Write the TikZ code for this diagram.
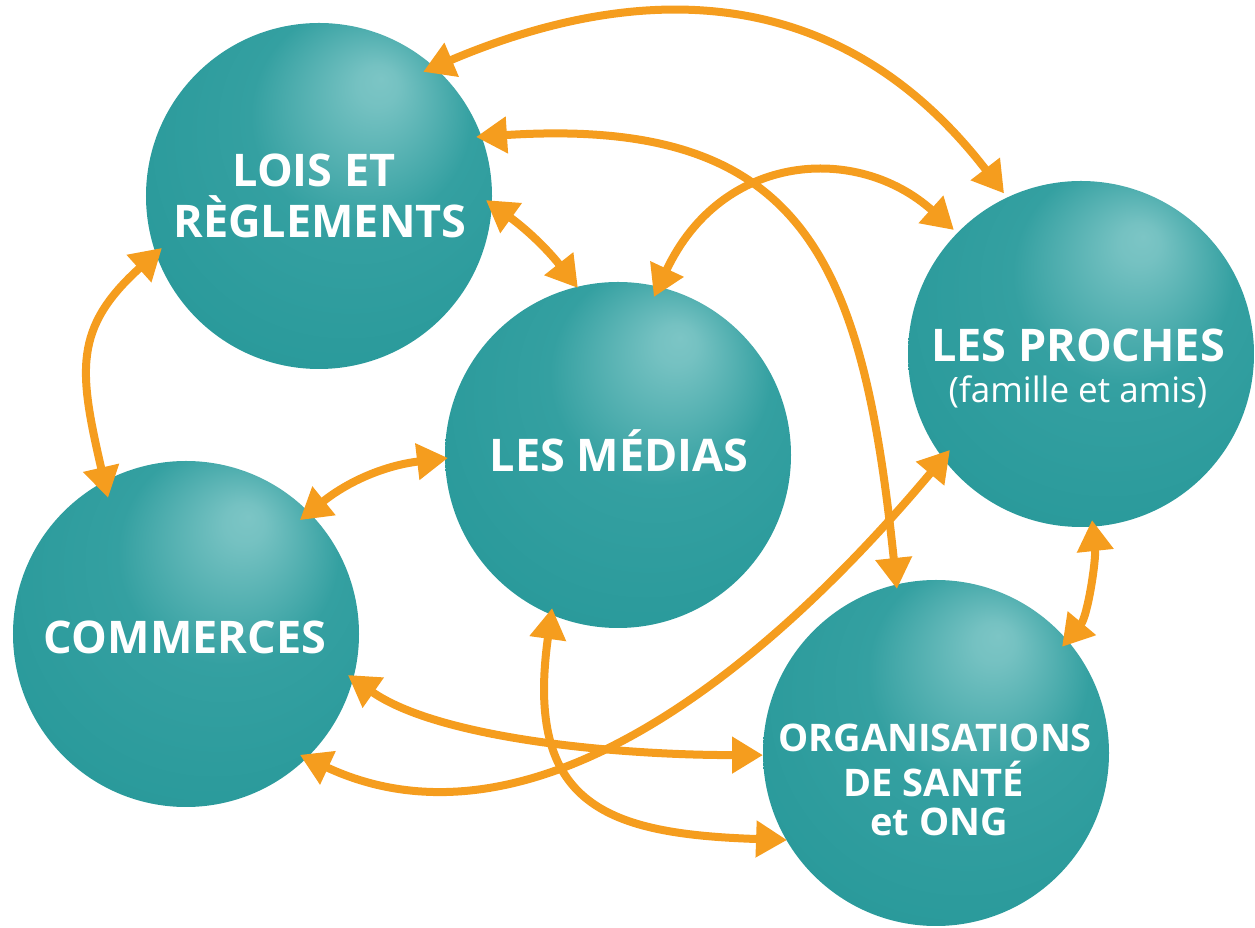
\documentclass[tikz,border=0pt]{standalone}
\usepackage{fontspec}
\setmainfont{Open Sans}
\usetikzlibrary{arrows.meta,calc}

\definecolor{tealedge}{HTML}{2A9A9B}
\definecolor{tealmid}{HTML}{34A0A1}
\definecolor{tealhl}{HTML}{7CC5C5}
\definecolor{linkorange}{HTML}{F59D1E}

% soft sphere: light spot a little up and to the right of the centre
\pgfdeclareradialshading{sphere}{\pgfpoint{9bp}{17bp}}{%
  color(0bp)=(tealhl); color(3bp)=(tealhl!90!tealmid); color(16bp)=(tealmid);
  color(32bp)=(tealedge); color(50bp)=(tealedge)}

\begin{document}
\begin{tikzpicture}[x=1bp,y=1bp,
  bubble/.style={circle, minimum size=346bp, inner sep=0pt, shade, shading=sphere},
  title/.style={text=white, anchor=base, inner sep=0pt,
                font=\bfseries\fontsize{45bp}{51bp}\selectfont},
  smalltitle/.style={text=white, anchor=base, inner sep=0pt,
                font=\bfseries\fontsize{38bp}{44bp}\selectfont},
  subtitle/.style={text=white, anchor=base, inner sep=0pt,
                font=\fontsize{35bp}{40bp}\selectfont},
  link/.style={draw=linkorange, line width=8bp,
               {Triangle[length=31bp,width=35bp]}-{Triangle[length=31bp,width=35bp]}}
]
\useasboundingbox (0,0) rectangle (1255,928);

% the five spheres
\node[bubble] (lois)     at (319,732) {};
\node[bubble] (medias)   at (618,473) {};
\node[bubble] (proches)  at (1081,574) {};
\node[bubble] (commerce) at (186,294) {};
\node[bubble] (orgs)     at (936,175) {};

% labels
\node[title] (loisA) at ($(lois)+(-5,9)$) {LOIS ET};
\node[title] (loisB) at ($(lois)+(1,-42)$) {RÈGLEMENTS};
\node[title] (mediasA) at ($(medias)+(1,-17)$) {LES MÉDIAS};
\node[title] (prochesA) at ($(proches)+(-3,-8)$) {LES PROCHES};
\node[subtitle] (prochesB) at ($(proches)+(-3,-49)$) {(famille et amis)};
\node[title] (commerceA) at ($(commerce)+(-1,-20)$) {COMMERCES};
\node[smalltitle] (orgsA) at ($(orgs)+(-1,1)$) {ORGANISATIONS};
\node[smalltitle] (orgsB) at ($(orgs)+(-2,-44)$) {DE SANTÉ};
\node[smalltitle] (orgsC) at ($(orgs)+(3,-83)$) {et ONG};

% links
\draw[link] ($(lois)+(50:162)$) .. controls +(23:236) and +(127.6:269) .. ($(proches)+(115.6:178)$);
\draw[link] ($(lois)+(20.6:167.7)$) .. controls +(3.7:330) and +(96:330) .. ($(orgs)+(103.4:168.6)$);
\draw[link] ($(lois)+(-1.4:167)$) to[bend left=8] ($(medias)+(103.5:171.7)$);
\draw[link] ($(medias)+(77.2:162)$) .. controls +(64.9:160) and +(138.1:130) .. ($(proches)+(135.7:177.5)$);
\draw[link] ($(lois)+(198.3:165.4)$) .. controls +(222:120) and +(103:130) .. ($(commerce)+(119.8:156.8)$);
\draw[link] ($(commerce)+(45:161)$) to[bend left=16] ($(medias)+(181:170)$);
\draw[link] ($(commerce)+(-14.2:167)$) .. controls +(-35:110) and +(180:150) .. ($(orgs)+(180.7:173)$);
\draw[link] ($(commerce)+(-46.7:166)$) .. controls +(-25:240) and +(230:320) .. ($(proches)+(216.2:162.4)$);
\draw[link] ($(medias)+(246.7:166.6)$) .. controls +(262:200) and +(178.1:180) .. ($(orgs)+(210.3:172.5)$);
\draw[link] ($(proches)+(273.8:166.4)$) .. controls +(276:40) and +(50:40) .. ($(orgs)+(40.1:164.7)$);
\end{tikzpicture}
\end{document}
